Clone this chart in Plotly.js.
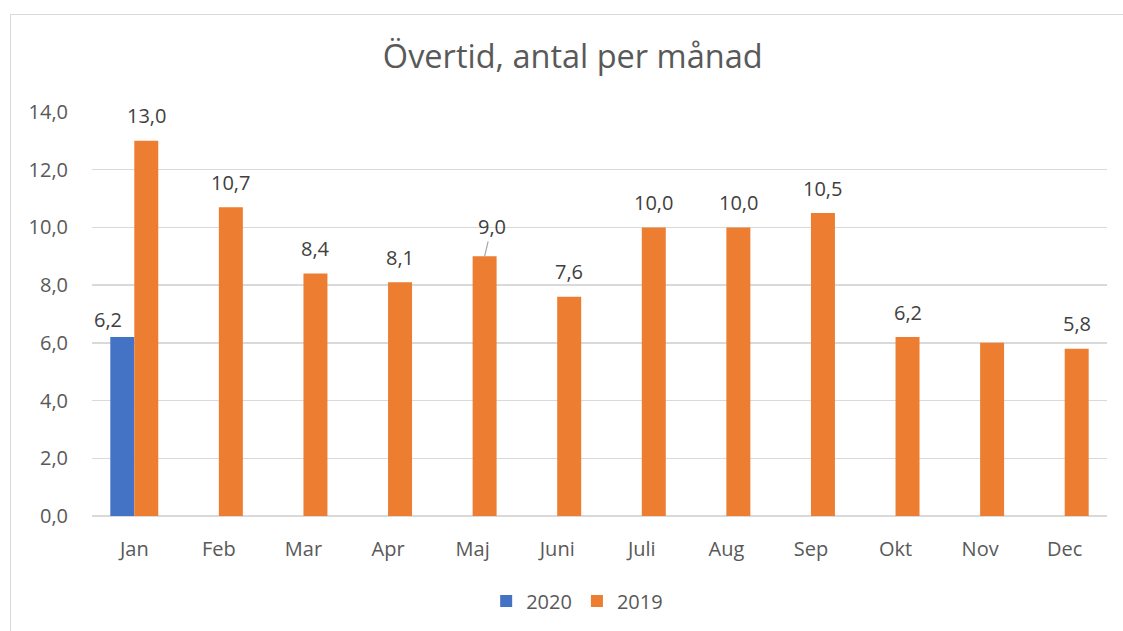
<!DOCTYPE html>
<html>
<head>
<meta charset="utf-8">
<script src="https://cdn.plot.ly/plotly-3.0.1.min.js"></script>
<style>
  html, body { margin: 0; padding: 0; background: #fff; }
  #frame { position: absolute; left: 10px; top: 14px; width: 1113px; height: 617px;
           border-left: 1px solid #d9d9d9; border-top: 1px solid #d9d9d9; box-sizing: border-box; }
  #chart { position: absolute; left: 0; top: 0; width: 1123px; height: 631px; }
</style>
</head>
<body>
<div id="frame"></div>
<div id="chart"></div>
<script>
const months = ["Jan","Feb","Mar","Apr","Maj","Juni","Juli","Aug","Sep","Okt","Nov","Dec"];
const values2020 = [6.2, null, null, null, null, null, null, null, null, null, null, null];
const values2019 = [13.0, 10.7, 8.4, 8.1, 9.0, 7.6, 10.0, 10.0, 10.5, 6.2, 6.0, 5.8];
const showLabel2019 = [true, true, true, true, true, true, true, true, true, true, false, true];
const seriesNames = ["2020", "2019"];

const fontFam = "Open Sans, sans-serif";
const fmt = v => v.toFixed(1).replace(".", ",");

const traces = [
  { type: "bar", name: seriesNames[0], x: months, y: values2020,
    marker: { color: "#4472C4" }, hoverinfo: "x+y" },
  { type: "bar", name: seriesNames[1], x: months, y: values2019,
    marker: { color: "#ED7D31" }, hoverinfo: "x+y" }
];

const annotations = [];
values2020.forEach((v, i) => {
  if (v == null) return;
  annotations.push({ x: months[i], y: v, xref: "x", yref: "y", text: fmt(v),
    showarrow: false, xshift: -26, yshift: 18, yanchor: "middle",
    font: { family: fontFam, size: 20, color: "#404040" } });
});
values2019.forEach((v, i) => {
  if (v == null || !showLabel2019[i]) return;
  if (months[i] === "Maj") {
    annotations.push({ x: months[i], y: v, xref: "x", yref: "y", text: fmt(v),
      showarrow: true, arrowhead: 0, arrowwidth: 1.2, arrowcolor: "#a6a6a6",
      ax: 7, ay: -30, xshift: 12, standoff: 0,
      font: { family: fontFam, size: 20, color: "#404040" } });
  } else {
    annotations.push({ x: months[i], y: v, xref: "x", yref: "y", text: fmt(v),
      showarrow: false, xshift: 12, yshift: 25, yanchor: "middle",
      font: { family: fontFam, size: 20, color: "#404040" } });
  }
});

const layout = {
  width: 1123, height: 631,
  paper_bgcolor: "rgba(0,0,0,0)", plot_bgcolor: "rgba(0,0,0,0)",
  separators: ", ",
  margin: { l: 92, r: 16, t: 112, b: 114 },
  barmode: "group", bargap: 0.433, bargroupgap: 0,
  title: { text: "Övertid, antal per månad", x: 0.51, xref: "container", xanchor: "center",
           y: 1 - 57/631, yref: "container", yanchor: "middle",
           font: { family: fontFam, size: 32.5, color: "#595959" } },
  xaxis: { type: "category", tickfont: { family: fontFam, size: 20, color: "#595959" },
           showgrid: false, showline: false, ticks: "", ticklabelstandoff: 19, fixedrange: true },
  yaxis: { range: [0, 14], dtick: 2, tick0: 0, tickformat: ".1f",
           tickfont: { family: fontFam, size: 20, color: "#595959" },
           showgrid: true, gridcolor: "#d9d9d9", gridwidth: 1.3,
           zeroline: true, zerolinecolor: "#d9d9d9", zerolinewidth: 1.3,
           showline: false, ticks: "", ticklabelstandoff: 23, fixedrange: true },
  showlegend: true,
  legend: { orientation: "h", x: 0.478, xanchor: "center", xref: "paper",
            y: -84/405, yanchor: "middle",
            font: { family: fontFam, size: 20, color: "#595959" },
            itemwidth: 30, traceorder: "normal" },
  annotations: annotations
};

Plotly.newPlot("chart", traces, layout, { displayModeBar: false, staticPlot: true });
</script>
</body>
</html>
